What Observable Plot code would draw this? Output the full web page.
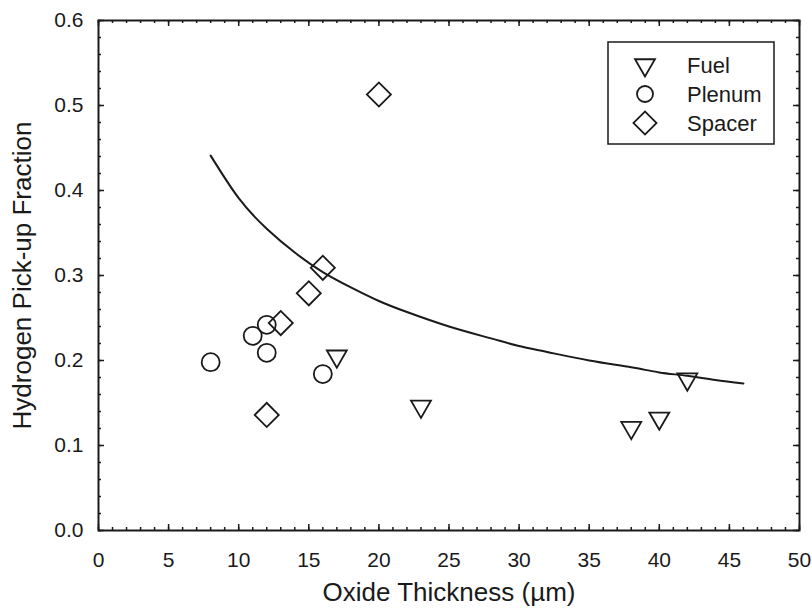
<!DOCTYPE html>
<html>
<head>
<meta charset="utf-8">
<script src="https://cdn.jsdelivr.net/npm/d3@7"></script>
<script src="https://cdn.jsdelivr.net/npm/@observablehq/plot@0.6"></script>
<style>
  body { margin: 0; background: #fff; }
  #wrap { position: relative; width: 812px; height: 608px; }
  #wrap svg [aria-label="x-axis label"] text, #wrap svg [aria-label="y-axis label"] text { font-size: 26px; }
  #legend { position: absolute; left: 607px; top: 41px; }
</style>
</head>
<body>
<div id="wrap"></div>
<script>
// Data
const fuelX = [17, 23, 38, 40, 42];
const fuelY = [0.205, 0.146, 0.121, 0.132, 0.178];
const plenumX = [8, 11, 12, 12, 16];
const plenumY = [0.198, 0.229, 0.242, 0.209, 0.184];
const spacerX = [20, 16, 15, 13, 12];
const spacerY = [0.513, 0.309, 0.279, 0.244, 0.136];
const fitX = [8, 10, 12, 14, 16, 18, 20, 22, 25, 28, 30, 32, 35, 38, 40, 42, 44, 46];
const fitY = [0.441, 0.391, 0.355, 0.327, 0.304, 0.286, 0.270, 0.257, 0.240, 0.226, 0.217, 0.210, 0.200, 0.192, 0.186, 0.182, 0.177, 0.173];
const xTicks = [0, 5, 10, 15, 20, 25, 30, 35, 40, 45, 50];
const yTicks = [0, 0.1, 0.2, 0.3, 0.4, 0.5, 0.6];
const xMinor = d3.range(0, 51, 1);
const yMinor = d3.range(0, 31, 1).map(i => i * 0.02);
const seriesNames = ["Fuel", "Plenum", "Spacer"];

const fuel = fuelX.map((x, i) => ({x, y: fuelY[i]}));
const plenum = plenumX.map((x, i) => ({x, y: plenumY[i]}));
const spacer = spacerX.map((x, i) => ({x, y: spacerY[i]}));
const fit = fitX.map((x, i) => ({x, y: fitY[i]}));

const W = 812, H = 608, mL = 98, mR = 13, mT = 20, mB = 78;
const px = (W - mL - mR) / 50;   // pixels per x unit
const py = (H - mT - mB) / 0.6;  // pixels per y unit
const majX = 6 / px, minX = 3 / px, majY = 6 / py, minY = 3 / py;

const ink = "#1a1a1a";
const chart = Plot.plot({
  width: W, height: H,
  marginLeft: mL, marginRight: mR, marginTop: mT, marginBottom: mB,
  style: {fontFamily: "'Liberation Sans', Arial, sans-serif", fontSize: "21px", color: ink, background: "white"},
  x: {domain: [0, 50], ticks: xTicks, tickSize: 0, tickPadding: 22, tickFormat: d => String(d),
      label: "Oxide Thickness (µm)", labelAnchor: "center", labelArrow: "none", labelOffset: 70},
  y: {domain: [0, 0.6], ticks: yTicks, tickSize: 0, tickPadding: 15, tickFormat: d3.format(".1f"),
      label: "Hydrogen Pick-up Fraction", labelAnchor: "center", labelArrow: "none", labelOffset: 86},
  marks: [
    // inward ticks on all four sides
    Plot.ruleX(xMinor, {x: d => d, y1: 0, y2: minY, stroke: ink, strokeWidth: 1.5}),
    Plot.ruleX(xTicks, {x: d => d, y1: 0, y2: majY, stroke: ink, strokeWidth: 1.5}),
    Plot.ruleX(xMinor, {x: d => d, y1: 0.6, y2: 0.6 - minY, stroke: ink, strokeWidth: 1.5}),
    Plot.ruleX(xTicks, {x: d => d, y1: 0.6, y2: 0.6 - majY, stroke: ink, strokeWidth: 1.5}),
    Plot.ruleY(yMinor, {y: d => d, x1: 0, x2: minX, stroke: ink, strokeWidth: 1.5}),
    Plot.ruleY(yTicks, {y: d => d, x1: 0, x2: majX, stroke: ink, strokeWidth: 1.5}),
    Plot.ruleY(yMinor, {y: d => d, x1: 50, x2: 50 - minX, stroke: ink, strokeWidth: 1.5}),
    Plot.ruleY(yTicks, {y: d => d, x1: 50, x2: 50 - majX, stroke: ink, strokeWidth: 1.5}),
    Plot.frame({stroke: ink, strokeWidth: 2}),
    Plot.line(fit, {x: "x", y: "y", curve: "natural", stroke: ink, strokeWidth: 2}),
    Plot.dot(plenum, {x: "x", y: "y", symbol: "circle", r: 9, stroke: ink, strokeWidth: 1.8, fill: "none"}),
    Plot.dot(spacer, {x: "x", y: "y", symbol: "square", rotate: 45, r: 9.6, stroke: ink, strokeWidth: 1.8, fill: "none"}),
    Plot.dot(fuel, {x: "x", y: "y", symbol: "triangle", rotate: 180, r: 7.4, stroke: ink, strokeWidth: 1.8, fill: "none"})
  ]
});

const wrap = document.getElementById("wrap");
wrap.appendChild(chart);

// Legend (inside the plot, upper right)
const lw = 167, lh = 103;
const leg = d3.create("svg").attr("id", "legend").attr("width", lw + 2).attr("height", lh + 2)
  .style("font-family", "'Liberation Sans', Arial, sans-serif");
leg.append("rect").attr("x", 1).attr("y", 1).attr("width", lw - 1).attr("height", lh - 1)
  .attr("fill", "white").attr("stroke", ink).attr("stroke-width", 1.5);
const symbols = [
  {path: d3.symbol(d3.symbolTriangle, Math.PI * 7.4 * 7.4)(), rot: 180},
  {path: d3.symbol(d3.symbolCircle, Math.PI * 8 * 8)(), rot: 0},
  {path: d3.symbol(d3.symbolSquare, Math.PI * 9.2 * 9.2)(), rot: 45}
];
seriesNames.forEach((name, i) => {
  const cy = 24 + i * 29;
  leg.append("path").attr("d", symbols[i].path)
    .attr("transform", `translate(38,${cy}) rotate(${symbols[i].rot})`)
    .attr("fill", "none").attr("stroke", ink).attr("stroke-width", 1.8);
  leg.append("text").attr("x", 80).attr("y", cy).attr("dy", "0.36em")
    .attr("font-size", 22).attr("fill", ink).text(name);
});
wrap.appendChild(leg.node());
</script>
</body>
</html>
